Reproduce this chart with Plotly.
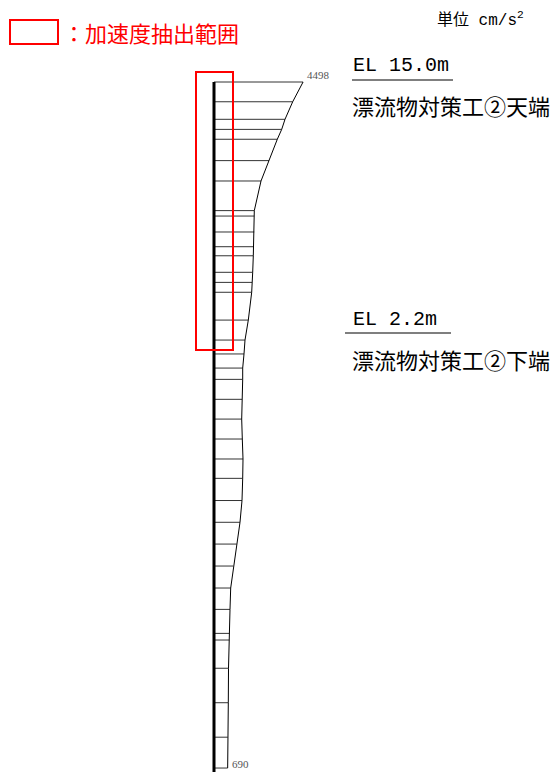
import plotly.graph_objects as go

# elevation of each node (m) and max acceleration (cm/s2)
elevation = [15.00, 14.02, 13.15, 12.65, 12.16, 11.10, 10.09, 8.62, 8.35, 7.56,
             6.83, 6.38, 5.56, 5.06, 4.57, 3.19, 2.20, 1.51, 0.81, 0.25,
             -0.74, -1.72, -2.71, -3.70, -4.66, -5.76, -6.84, -7.92, -9.01, -10.10,
             -11.16, -12.35, -12.68, -14.08, -15.79, -17.50, -19.03]
accel = [4498, 3974, 3586, 3419, 3197, 2778, 2374, 2035, 2030, 2030,
         2005, 1985, 1954, 1919, 1904, 1732, 1566, 1515, 1449, 1449,
         1414, 1399, 1429, 1465, 1449, 1414, 1313, 1146, 975, 843,
         808, 773, 768, 732, 722, 697, 690]

W, H = 556, 772
MONO = 'Liberation Mono, Noto Sans CJK JP, monospace'
CJK = 'Noto Sans CJK JP, sans-serif'


def px(x):
    return x / W


def py(y):
    return 1 - y / H


fig = go.Figure()

# horizontal bars from the axis to each value
hx, hy = [], []
for e, a in zip(elevation, accel):
    hx += [0, a, None]
    hy += [e, e, None]
fig.add_trace(go.Scatter(x=hx, y=hy, mode='lines',
                         line=dict(color='#333333', width=1),
                         hoverinfo='skip', showlegend=False))

# envelope
fig.add_trace(go.Scatter(x=accel, y=elevation, mode='lines',
                         line=dict(color='black', width=1),
                         showlegend=False))

# member axis
fig.add_trace(go.Scatter(x=[0, 0], y=[elevation[0], elevation[-1] - 0.2],
                         mode='lines', line=dict(color='black', width=3),
                         hoverinfo='skip', showlegend=False))

# max / min value labels
for i, ysh in ((0, -1), (len(accel) - 1, -4)):
    fig.add_annotation(x=accel[i], y=elevation[i], text=str(accel[i]),
                       showarrow=False, xanchor='left', yanchor='bottom',
                       xshift=2, yshift=ysh,
                       font=dict(family='Liberation Serif, serif', size=11,
                                 color='#555555'))

shapes = [
    # extraction range box
    dict(type='rect', xref='paper', yref='paper',
         x0=px(196), x1=px(233), y0=py(72), y1=py(350),
         line=dict(color='red', width=2)),
    # legend box
    dict(type='rect', xref='paper', yref='paper',
         x0=px(10), x1=px(58), y0=py(20), y1=py(44),
         line=dict(color='red', width=2)),
    # underlines
    dict(type='line', xref='paper', yref='paper',
         x0=px(352), x1=px(453), y0=py(80), y1=py(80),
         line=dict(color='#555555', width=1.5)),
    dict(type='line', xref='paper', yref='paper',
         x0=px(345), x1=px(451), y0=py(333), y1=py(333),
         line=dict(color='#555555', width=1.5)),
]

texts = [
    ('：加速度抽出範囲', 61, 32, CJK, 22, 'red'),
    ('単位 cm/s<sup>2</sup>', 435, 20, MONO, 16, 'black'),
    ('EL 15.0m', 351, 66, MONO, 20, 'black'),
    ('漂流物対策工②天端', 350, 105, CJK, 22, 'black'),
    ('EL 2.2m', 351, 319, MONO, 20, 'black'),
    ('漂流物対策工②下端', 350, 359, CJK, 22, 'black'),
]
for t, x, y, fam, size, col in texts:
    fig.add_annotation(x=px(x), y=py(y), xref='paper', yref='paper',
                       text=t, showarrow=False, xanchor='left',
                       yanchor='middle',
                       font=dict(family=fam, size=size, color=col))

scale = 50.5      # cm/s2 per pixel
mpp = 20.16       # pixels per metre
fig.update_layout(
    width=W, height=H,
    margin=dict(l=0, r=0, t=0, b=0),
    paper_bgcolor='white', plot_bgcolor='white',
    shapes=shapes,
    xaxis=dict(range=[-214 * scale, (W - 214) * scale], visible=False,
               fixedrange=True),
    yaxis=dict(range=[15.0 - (H - 82) / mpp, 15.0 + 82 / mpp], visible=False,
               fixedrange=True),
)

# drop the default page margin so the figure fills the window exactly
fig.write_html('out.html', config=dict(displayModeBar=False),
               post_script="document.body.style.margin='0';")
